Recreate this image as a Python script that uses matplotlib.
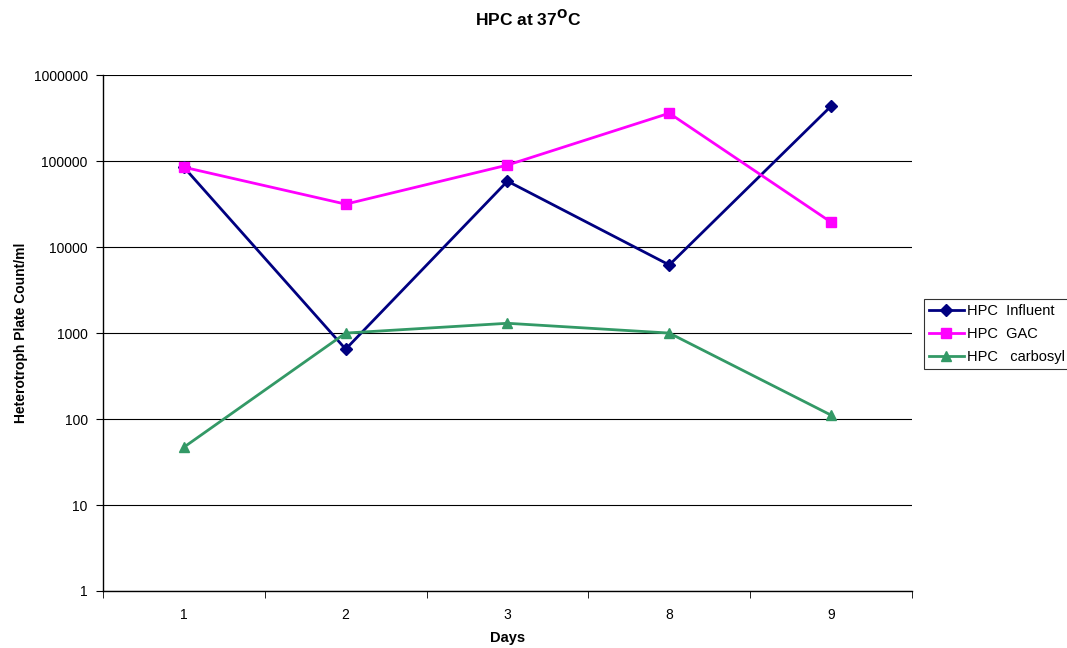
import numpy as np
import matplotlib.pyplot as plt
from matplotlib.ticker import FixedLocator, NullLocator

plt.rcParams['font.family'] = ['Liberation Sans', 'DejaVu Sans']

days = ['1', '2', '3', '8', '9']
influent = [85000, 650, 58500, 6200, 436000]
gac = [85000, 31600, 90000, 361000, 19500]
carbosyl = [47, 1000, 1300, 1000, 111]

fig = plt.figure(figsize=(10.67, 6.48), dpi=100)
ax = fig.add_axes([0.0965, 0.088, 0.7582, 0.796])

x = np.arange(len(days))
ax.plot(x, influent, color='#000080', lw=2, marker='D', ms=6, label='HPC  Influent')
ax.plot(x, gac, color='#FF00FF', lw=2, marker='s', ms=7, label='HPC  GAC')
ax.plot(x, carbosyl, color='#339966', lw=2, marker='^', ms=7, label='HPC   carbosyl')

ax.set_yscale('log')
ax.set_ylim(1, 1e6)
ax.set_xlim(-0.5, len(days) - 0.5)
yt = [10**i for i in range(7)]
ax.yaxis.set_major_locator(FixedLocator(yt))
ax.yaxis.set_minor_locator(NullLocator())
ax.set_yticklabels([str(v) for v in yt], fontsize=10)
ax.set_xticks(x)
ax.set_xticklabels(days, fontsize=10)
ax.set_xticks(np.arange(len(days) + 1) - 0.5, minor=True)
ax.tick_params(axis='x', which='major', length=0, pad=12)
ax.tick_params(axis='x', which='minor', length=5, direction='out', color='black')
ax.tick_params(axis='y', length=5, direction='out', color='black', pad=6)
ax.grid(axis='y', color='black', lw=0.8)
for s in ['top', 'right']:
    ax.spines[s].set_visible(False)
for s in ['left', 'bottom']:
    ax.spines[s].set_color('black')
    ax.spines[s].set_linewidth(1)

ax.set_xlabel('Days', fontsize=10.5, fontweight='bold', labelpad=7)
ax.set_ylabel('Heterotroph Plate Count/ml', fontsize=10, fontweight='bold', labelpad=4)
fig.text(0.4945, 0.97, 'HPC at 37$^{\\mathbf{O}}$C', ha='center', va='center',
         fontsize=12.5, fontweight='bold')

leg = ax.legend(loc='upper left', bbox_to_anchor=(1.0145, 0.567), fontsize=10.5,
                frameon=True, fancybox=False, edgecolor='black', borderpad=0.35,
                handlelength=2.4, handletextpad=0.2, labelspacing=0.62,
                borderaxespad=0)
leg.get_frame().set_linewidth(0.8)

fig.savefig('out.png', dpi=100)
